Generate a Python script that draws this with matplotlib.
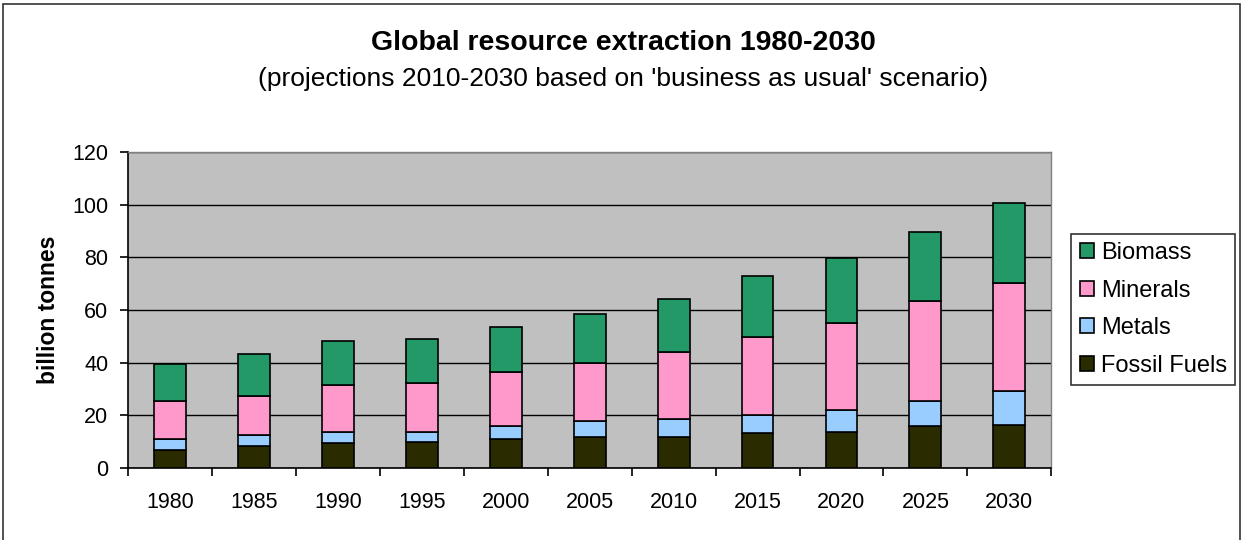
import matplotlib.pyplot as plt
from matplotlib.patches import Rectangle


years = ["1980", "1985", "1990", "1995", "2000", "2005",
         "2010", "2015", "2020", "2025", "2030"]
fossil_fuels = [7.0, 8.2, 9.6, 9.8, 10.9, 11.8, 11.8, 13.3, 13.7, 15.9, 16.5]
metals = [4.0, 4.2, 4.1, 3.9, 5.0, 6.1, 6.7, 6.7, 8.4, 9.6, 12.6]
minerals = [14.5, 15.1, 17.9, 18.5, 20.5, 22.0, 25.5, 29.6, 32.9, 37.9, 41.3]
biomass = [14.0, 15.8, 16.7, 16.7, 17.2, 18.5, 20.0, 23.4, 24.6, 26.1, 30.1]

series = [
    ("Fossil Fuels", fossil_fuels, "#2b2b00"),
    ("Metals", metals, "#99ccff"),
    ("Minerals", minerals, "#ff99cc"),
    ("Biomass", biomass, "#229966"),
]


def main() -> None:
    plt.rcParams["font.family"] = ["Liberation Sans", "DejaVu Sans"]

    fig = plt.figure(figsize=(12.47, 5.4), dpi=100)
    ax = fig.add_axes([0.1026, 0.1333, 0.7405, 0.5852])

    # outer chart frame
    fig.patches.append(Rectangle((0.0025, -0.01), 0.9915, 1.0025, transform=fig.transFigure,
                                 fill=False, edgecolor="#333333", linewidth=1.2))

    x = list(range(len(years)))
    bottoms = [0.0] * len(years)
    handles = {}
    for name, values, color in series:
        bars = ax.bar(x, values, width=0.38, bottom=bottoms, color=color,
                      edgecolor="black", linewidth=1.2, label=name, zorder=3)
        handles[name] = bars
        bottoms = [b + v for b, v in zip(bottoms, values)]

    ax.set_facecolor("#c0c0c0")
    ax.set_xlim(-0.5, len(years) - 0.5)
    ax.set_ylim(0, 120)
    ax.set_yticks(range(0, 121, 20))
    ax.yaxis.grid(True, color="black", linewidth=1.0, zorder=1)
    ax.set_axisbelow(True)

    ax.set_xticks(x)
    ax.set_xticklabels(years, fontsize=15.5)
    ax.set_xticks([i - 0.5 for i in range(len(years) + 1)], minor=True)
    ax.tick_params(axis="x", which="major", length=0, pad=17)
    ax.tick_params(axis="x", which="minor", length=6, width=1.2, direction="out")
    ax.tick_params(axis="y", labelsize=15.5, length=6, width=1.2, direction="out", pad=8)

    for side in ("left", "bottom"):
        ax.spines[side].set_color("black")
        ax.spines[side].set_linewidth(1.2)
    for side in ("top", "right"):
        ax.spines[side].set_color("#808080")
        ax.spines[side].set_linewidth(1.0)

    ax.set_ylabel("billion tonnes", fontsize=16.5, fontweight="bold", labelpad=9)

    fig.text(0.5, 0.92, "Global resource extraction 1980-2030", ha="center",
             va="center", fontsize=20.5, fontweight="bold")
    fig.text(0.5, 0.853, "(projections 2010-2030 based on 'business as usual' scenario)",
             ha="center", va="center", fontsize=19)

    order = ["Biomass", "Minerals", "Metals", "Fossil Fuels"]
    leg = ax.legend([handles[n] for n in order], order, loc="center left",
                    bbox_to_anchor=(1.0217, 0.5016), fontsize=17, frameon=True,
                    fancybox=False, edgecolor="black", handlelength=0.6,
                    handleheight=0.6, handletextpad=0.3, labelspacing=0.66,
                    borderpad=0.35, borderaxespad=0.0)
    leg.get_frame().set_linewidth(1.2)

    fig.savefig("out.png", dpi=100)


if __name__ == "__main__":
    main()
